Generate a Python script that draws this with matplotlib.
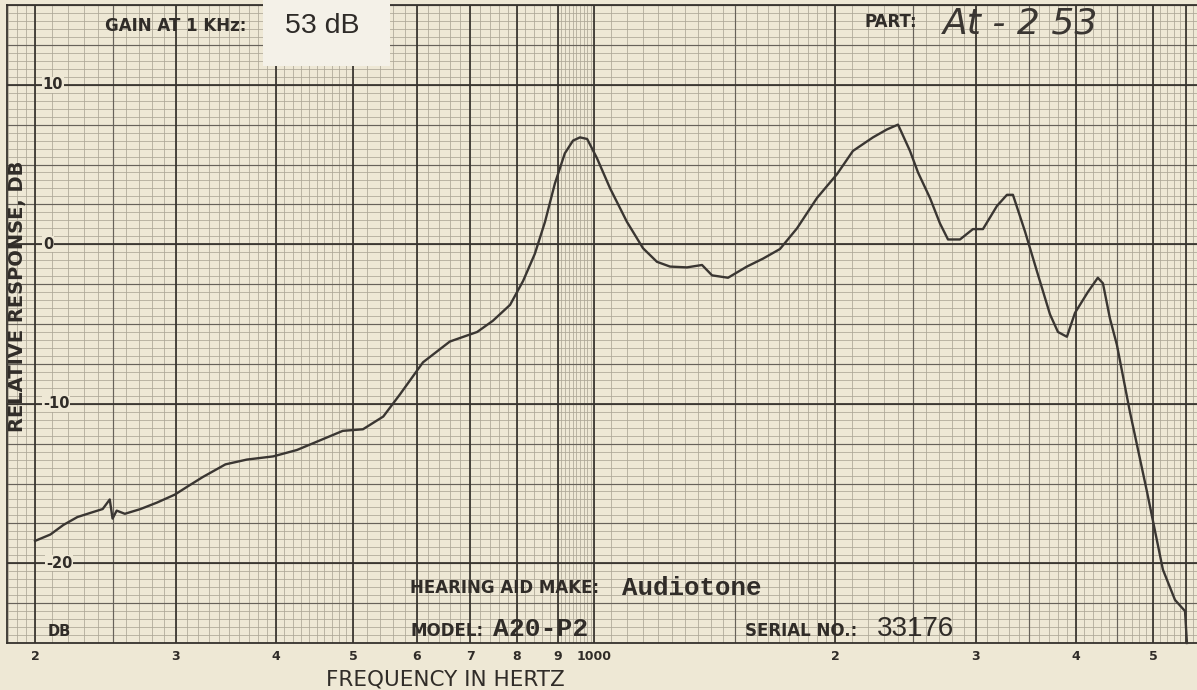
import numpy as np
import matplotlib
matplotlib.use("Agg")
import matplotlib.pyplot as plt
from matplotlib.patches import Rectangle
from matplotlib.ticker import NullLocator, NullFormatter
import matplotlib.transforms as mtrans

# ---------------- data ----------------
freq_hz = [200, 209, 217, 226, 236, 243, 248, 250, 253, 259,
           271, 284, 299, 310, 324, 346, 368, 397, 425, 454,
           485, 514, 545, 572, 611, 660, 714, 747, 785, 815,
           843, 868, 893, 919, 941, 960, 980, 1008, 1047, 1099,
           1151, 1198, 1244, 1306, 1364, 1404, 1470, 1552, 1626, 1707,
           1793, 1899, 2012, 2106, 2231, 2323, 2398, 2482, 2540, 2629,
           2706, 2769, 2866, 2975, 3062, 3188, 3281, 3338, 3456, 3577,
           3714, 3800, 3899, 3991, 4141, 4262, 4325, 4413, 4502, 4674,
           4909, 5140, 5322, 5478, 5508]
response_db = [-18.6, -18.2, -17.6, -17.1, -16.8, -16.6, -16.0, -17.2, -16.7, -16.9,
               -16.6, -16.2, -15.7, -15.2, -14.6, -13.8, -13.5, -13.3, -12.9, -12.3,
               -11.7, -11.6, -10.8, -9.4, -7.4, -6.1, -5.5, -4.8, -3.8, -2.3,
               -0.6, 1.4, 3.8, 5.7, 6.5, 6.7, 6.6, 5.4, 3.5, 1.4,
               -0.25, -1.1, -1.4, -1.45, -1.3, -1.95, -2.1, -1.4, -0.9, -0.3,
               1.0, 2.9, 4.4, 5.85, 6.7, 7.2, 7.5, 5.85, 4.5, 2.9,
               1.3, 0.3, 0.3, 0.95, 0.95, 2.4, 3.1, 3.1, 0.8, -1.7,
               -4.4, -5.5, -5.8, -4.3, -3.0, -2.1, -2.45, -4.65, -6.3, -10.5,
               -15.5, -20.4, -22.3, -23.0, -25.0]

x_ticks = [200, 300, 400, 500, 600, 700, 800, 900, 1000, 2000, 3000, 4000, 5000]
x_tick_labels = ["2", "3", "4", "5", "6", "7", "8", "9", "1000", "2", "3", "4", "5"]
y_ticks = [10, 0, -10, -20]
y_tick_labels = ["10", "0", "-10", "-20"]

# ---------------- style ----------------
BG = "#eee8d5"
FINE = "#aca696"
MED = "#67625a"
HEAVY = "#36322d"
INK = "#302c28"

W, H = 1197, 690
fig = plt.figure(figsize=(W / 100, H / 100), dpi=100, facecolor=BG)
ax = fig.add_axes([7 / W, 1 - 643 / H, 1190 / W, 638 / H])
ax.set_facecolor(BG)
ax.set_xscale("log")
ax.set_xlim(184.5, 5670)
ax.set_ylim(-25, 15)

# ---------------- chart-paper grid ----------------
fine_x = np.concatenate([np.arange(185, 200, 5), np.arange(200, 500, 10),
                         np.arange(500, 900, 20), np.arange(900, 1000, 10),
                         np.arange(1000, 2000, 50), np.arange(2000, 5700, 100)])
fine_y = np.arange(-25, 15.01, 0.5)
med_x = [250, 1500, 2500, 3500, 4500]
med_y = np.arange(-25, 15.01, 2.5)
heavy_x = x_ticks + [5500]
heavy_y = y_ticks

ax.vlines(fine_x, -25, 15, colors=FINE, lw=0.55, zorder=1)
ax.hlines(fine_y, 184.5, 5670, colors=FINE, lw=0.55, zorder=1)
ax.vlines(med_x, -25, 15, colors=MED, lw=0.85, zorder=2)
ax.hlines(med_y, 184.5, 5670, colors=MED, lw=0.85, zorder=2)
ax.vlines(heavy_x, -25, 15, colors=HEAVY, lw=1.25, zorder=3)
ax.hlines(heavy_y, 184.5, 5670, colors=HEAVY, lw=1.25, zorder=3)

for s in ax.spines.values():
    s.set_color(HEAVY)
    s.set_linewidth(1.3)
ax.spines["right"].set_visible(False)

# ---------------- response curve ----------------
ax.plot(freq_hz, response_db, color="#3a3632", lw=1.7, zorder=5,
        solid_joinstyle="round", clip_on=False)

# ---------------- ticks ----------------
ax.xaxis.set_minor_locator(NullLocator())
ax.xaxis.set_minor_formatter(NullFormatter())
ax.set_xticks(x_ticks)
ax.set_xticklabels(x_tick_labels, fontsize=9, fontweight="bold", color=INK)
ax.tick_params(axis="x", length=0, pad=5)
ax.set_yticks([])

trans = mtrans.blended_transform_factory(ax.transAxes, ax.transData)
ylab_x = {"10": 53, "0": 48, "-10": 56, "-20": 59}
for v, lab in zip(y_ticks, y_tick_labels):
    ax.text((ylab_x[lab] - 7) / 1190, v, lab, transform=trans, ha="center",
            va="center", fontsize=10.5, fontweight="bold", color=INK, zorder=6,
            bbox=dict(boxstyle="square,pad=0.05", fc=BG, ec="none"))
ax.text((59 - 7) / 1190, -24.3, "DB", transform=trans, ha="center", va="center",
        fontsize=10.5, fontweight="bold", color=INK, zorder=6)

fig.text(18 / W, 1 - 296 / H, "RELATIVE RESPONSE, DB", rotation=90,
         ha="center", va="center", fontsize=14, fontweight="bold", color=INK)
fig.text(445 / W, 1 - 680 / H, "FREQUENCY IN HERTZ", ha="center", va="center",
         fontsize=15.5, color=INK)

# ---------------- header / footer labels ----------------
LBL = 12
fig.text(105 / W, 1 - 26 / H, "GAIN AT 1 KHz:", ha="left", va="center",
         fontsize=LBL, fontweight="bold", color=INK)
fig.patches.append(Rectangle((263 / W, 1 - 66 / H), 127 / W, 66 / H,
                             transform=fig.transFigure, fc="#f4f1e8",
                             ec="none", zorder=10))
fig.text(322 / W, 1 - 26 / H, "53 dB", ha="center", va="center",
         fontsize=20.5, color="#2e2b28", family="Liberation Sans", zorder=11)

fig.text(865 / W, 1 - 22 / H, "PART:", ha="left", va="center",
         fontsize=LBL, fontweight="bold", color=INK)
fig.text(943 / W, 1 - 24 / H, "At - 2 53", ha="left", va="center",
         fontsize=26, style="italic", fontweight="light", color="#3a3632",
         family="DejaVu Sans")

fig.text(410 / W, 1 - 588 / H, "HEARING AID MAKE:", ha="left", va="center",
         fontsize=LBL, fontweight="bold", color=INK, zorder=8)
fig.text(622 / W, 1 - 588 / H, "Audiotone", ha="left", va="center",
         fontsize=18.5, fontweight="bold", family="Liberation Mono", color=INK, zorder=8)
fig.text(410 / W, 1 - 631 / H, "MODEL:", ha="left", va="center",
         fontsize=LBL, fontweight="bold", color=INK, zorder=8)
fig.text(493 / W, 1 - 629 / H, "A20-P2", ha="left", va="center",
         fontsize=19, fontweight="bold", family="Liberation Mono", color=INK, zorder=8)
fig.text(745 / W, 1 - 631 / H, "SERIAL NO.:", ha="left", va="center",
         fontsize=LBL, fontweight="bold", color=INK, zorder=8)
fig.text(877 / W, 1 - 629 / H, "33176", ha="left", va="center",
         fontsize=20, family="Liberation Sans", color=INK, zorder=8)

fig.savefig("out.png", dpi=100, facecolor=BG)
